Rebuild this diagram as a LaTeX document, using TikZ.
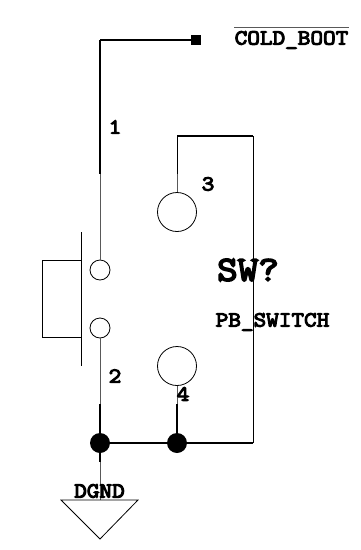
\documentclass[tikz,border=0pt]{standalone}
\usepackage{fontspec}
\newfontfamily\schfont{Latin Modern Mono}[FakeBold=5,FakeStretch=1.14]

\begin{document}
\begin{tikzpicture}[x=1pt,y=-1pt,semithick,font=\schfont\fontsize{21.5}{21.5}\selectfont]
  \tikzstyle{pin}=[circle,draw=black,fill=white,line width=0.8pt,inner sep=0pt,minimum size=20pt]
  \tikzstyle{contact}=[circle,draw=black,fill=white,line width=0.8pt,inner sep=0pt,minimum size=39pt]
  \tikzstyle{junction}=[circle,fill=black,inner sep=0pt,minimum size=20pt]
  \tikzstyle{port}=[rectangle,fill=black,inner sep=0pt,minimum size=10pt]
  \tikzstyle{wire}=[black,line width=1.5pt]
  \tikzstyle{lead}=[black!65,line width=1pt]
  \tikzstyle{body}=[black,line width=0.8pt]
  \tikzstyle{label}=[inner sep=0pt,text=black]

  \useasboundingbox (0,0) rectangle (360,550);

  \node[pin] (P1) at (100,270) {};
  \node[pin] (P2) at (100,328) {};
  \node[contact] (P3) at (177,212) {};
  \node[contact] (P4) at (177,366) {};
  \node[junction] (J1) at (100,443) {};
  \node[junction] (J2) at (177,443) {};
  \node[port] (T) at (196,40) {};

  \coordinate (C0) at (100,40);
  \coordinate (C1) at (100,174);
  \coordinate (C2) at (100,404);
  \coordinate (C3) at (177,174);
  \coordinate (C4) at (177,136);
  \coordinate (C5) at (253,136);
  \coordinate (C6) at (253,443);
  \coordinate (C7) at (177,404);
  \coordinate (C8) at (100,462);
  \coordinate (B1) at (81,232);
  \coordinate (B2) at (81,366);
  \coordinate (B3) at (81,260);
  \coordinate (B4) at (42,260);
  \coordinate (B5) at (42,337);
  \coordinate (B6) at (81,337);
  \coordinate (O1) at (234,27.5);
  \coordinate (O2) at (349,27.5);
  \coordinate (G0) at (100,500);
  \coordinate (G1) at (61,500);
  \coordinate (G2) at (138,500);
  \coordinate (G3) at (100,539);

  \path
(T) edge      [wire]        (C0)
(C0) edge     [wire]        (C1)
(C1) edge     [lead]        (P1)
(P2) edge     [lead]        (C2)
(C2) edge     [wire]        (J1)
(J1) edge     [wire]        (J2)
(J2) edge     [wire]        (C6)
(C6) edge     [body]        (C5)
(C5) edge     [wire]        (C4)
(C4) edge     [body]        (C3)
(C3) edge     [lead]        (P3)
(P4) edge     [lead]        (C7)
(C7) edge     [wire]        (J2)
(J1) edge     [wire]        (C8)
(C8) edge     [lead]        (G0)
(B1) edge     [body]        (B2)
(B3) edge     [body]        (B4)
(B4) edge     [body]        (B5)
(B5) edge     [body]        (B6)
(O1) edge     [lead]        (O2);
  \draw[body] (G1) -- (G2) -- (G3) -- cycle;

  \node[label] (N1) at (115,127) {1};
  \node[label] (N2) at (115,376) {2};
  \node[label] (N3) at (208,184) {3};
  \node[label] (N4) at (183,394) {4};
  \node[label] (Ref) at (248,270) {\fontsize{35}{35}\selectfont SW?};
  \node[label] (Val) at (272.5,322) {PB\_SWITCH};
  \node[label] (Net) at (291.5,40) {COLD\_BOOT};
  \node[label] (Gnd) at (99.5,491) {DGND};
\end{tikzpicture}
\end{document}
